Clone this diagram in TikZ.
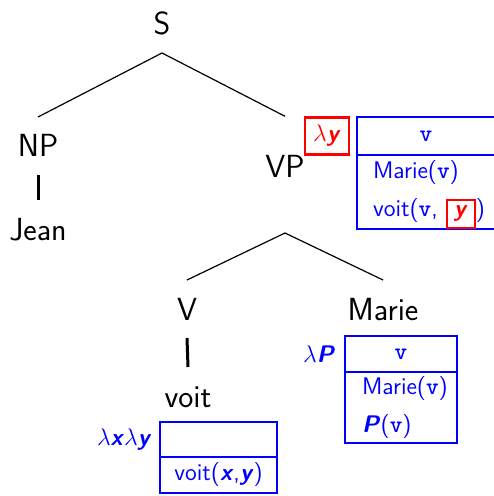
\documentclass[tikz,border=0pt]{standalone}
\usepackage{xcolor}
\usetikzlibrary{positioning, calc}
\renewcommand{\familydefault}{\sfdefault}
\newcommand{\mv}[1]{\textbf{\textsl{#1}}}
\newcommand{\tv}{\texttt{\textbf{v}}}
\newcommand{\hole}[1]{\smash{\setlength{\fboxrule}{1pt}\setlength{\fboxsep}{2.5pt}\fcolorbox{red}{white}{\rule[-2.5pt]{0pt}{8pt}\makebox[8pt]{\textcolor{red}{\mv{#1}}}}}}

\begin{document}
\begin{tikzpicture}[x = 0.5pt, y = -0.5pt, line width = 0.6pt,
		cat/.style = { inner sep = 0pt, outer sep = 9pt, text height = 11pt, text depth = 0pt, anchor = base, font = \fontsize{16}{19}\selectfont },
		avm/.style = { draw = blue, line width = 1.2pt, inner sep = 0pt, outer sep = 0pt, anchor = north west, text = blue, font = \fontsize{12}{19}\selectfont },
		lam/.style = { text = blue, inner sep = 0pt, font = \fontsize{12}{14}\selectfont },
		lamred/.style = { draw = red, text = red, line width = 1.2pt, inner sep = 0pt, minimum width = 22pt, minimum height = 18.5pt, font = \fontsize{12}{14}\selectfont },
		bar/.style = { line width = 1.5pt }]
		\useasboundingbox (0, 0) rectangle (493, 496);

		\node [cat] (S)     at (162, 35)  {S};
		\node [cat] (NP)    at (38, 157)  {NP};
		\node [cat] (Jean)  at (38, 240)  {Jean};
		\node [cat] (VP)    at (285, 178) {VP};
		\node [cat] (V)     at (187, 320) {V};
		\node [cat] (voit)  at (188, 407) {voit};
		\node [cat] (Marie) at (383, 320) {Marie};

		\node [avm, minimum width = 69pt, minimum height = 19pt] (vptop) at (357, 117) {\tv};
		\node [avm, minimum width = 69pt, minimum height = 37pt, text width = 53pt, align = left] (vpbot) at (vptop.south west) {Marie(\tv)\\\mbox{voit(\tv,~\hole{y})}};
		\node [lamred, left = 3.5pt of vptop] (lamy) {$\lambda$\mv{y}};

		\node [avm, minimum width = 56pt, minimum height = 18pt] (matop) at (345, 336) {\tv};
		\node [avm, minimum width = 56pt, minimum height = 35.5pt, text width = 39pt, align = left] (mabot) at (matop.south west) {Marie(\tv)\\\mv{P}(\tv)};
		\node [lam, left = 4.5pt of matop] (lamP) {$\lambda$\mv{P}};

		\node [avm, minimum width = 58.5pt, minimum height = 17.5pt] (vttop) at (160, 422) {};
		\node [avm, minimum width = 58.5pt, minimum height = 18pt] (vtbot) at (vttop.south west) {voit(\mv{x},\mv{y})};
		\node [lam, left = 4pt of vttop] (lamxy) {$\lambda$\mv{x}$\lambda$\mv{y}};

		\coordinate (vpfork) at ($(VP |- vpbot.south) + (0, 4)$);

		\draw (S.south) -- (NP.north);
		\draw (S.south) -- (VP.north |- lamy.north);
		\draw [bar] (NP.south) -- (Jean.north);

		\draw (vpfork) -- (V.north);
		\draw (vpfork) -- (Marie.north);
		\draw [bar] (V.south) -- (voit.north);
	\end{tikzpicture}
\end{document}
